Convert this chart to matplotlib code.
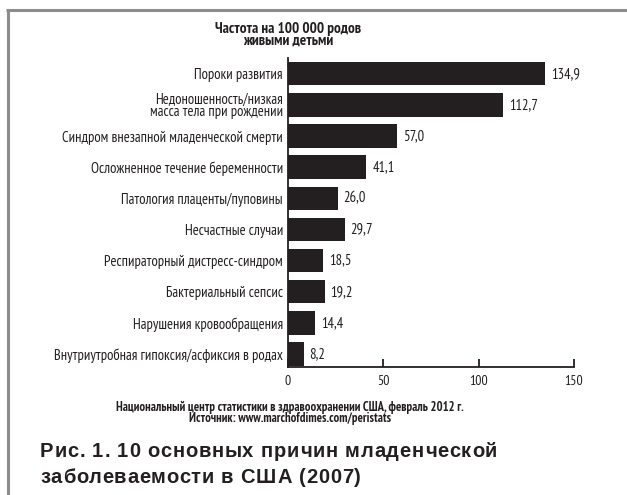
import matplotlib
matplotlib.use("Agg")
import matplotlib.pyplot as plt
from matplotlib.lines import Line2D
from matplotlib.font_manager import FontProperties

# data
causes = [
    "Пороки развития",
    "Недоношенность/низкая\nмасса тела при рождении",
    "Синдром внезапной младенческой смерти",
    "Осложненное течение беременности",
    "Патология плаценты/пуповины",
    "Несчастные случаи",
    "Респираторный дистресс-синдром",
    "Бактериальный сепсис",
    "Нарушения кровообращения",
    "Внутриутробная гипоксия/асфиксия в родах",
]
rates = [134.9, 112.7, 57.0, 41.1, 26.0, 29.7, 18.5, 19.2, 14.4, 8.2]
x_ticks = [0, 50, 100, 150]

header = "Частота на 100 000 родов\nживыми детьми"
source = ("Национальный центр статистики в здравоохранении США, февраль 2012 г.\n"
          "Источник: www.marchofdimes.com/peristats")
caption = ["Рис. 1. 10 основных причин младенческой",
           "заболеваемости в США (2007)"]

NARROW = ["PT Sans Narrow", "Roboto Condensed", "Fira Sans Condensed", "DejaVu Sans"]
WIDE = ["Liberation Sans", "Arimo", "DejaVu Sans"]
INK = "#231f20"
W, H = 627, 495

fig = plt.figure(figsize=(W / 100, H / 100), dpi=100)

# axes placed in pixel terms
left, right, top, bottom = 288, 574, 58, 367
ax = fig.add_axes([left / W, 1 - bottom / H, (right - left) / W, (bottom - top) / H])

pos = list(range(len(causes)))
ax.barh(pos, rates, height=0.75, color=INK)
ax.set_xlim(0, 150)
ax.set_ylim(len(causes) - 1 + 0.375 + 0.04, -0.375 - 0.13)

for p, v in zip(pos, rates):
    ax.annotate(f"{v:.1f}".replace(".", ","), (v, p), xytext=(4.3, 0),
                textcoords="offset points", va="center", ha="left",
                fontsize=10.5, family=NARROW, color=INK)

ax.set_yticks(pos)
ax.set_yticklabels(causes, family=NARROW, fontsize=10.5, linespacing=0.9, color=INK)
ax.tick_params(axis="y", length=0, pad=3.6)
ax.set_xticks(x_ticks)
ax.set_xticklabels([str(t) for t in x_ticks], family=NARROW, fontsize=10)
ax.tick_params(axis="x", direction="in", length=6, width=1.3, pad=6, colors=INK)
for s in ("top", "right"):
    ax.spines[s].set_visible(False)
for s in ("left", "bottom"):
    ax.spines[s].set_linewidth(1.3)
    ax.spines[s].set_color(INK)

fig.text(288 / W, 1 - 35 / H, header, ha="center", va="center", family=NARROW,
         fontweight="bold", fontsize=11, linespacing=0.8, color=INK)

fig.text(290 / W, 1 - 412.5 / H, source, ha="center", va="center", family=NARROW,
         fontweight="bold", fontsize=9.1, linespacing=0.8, color=INK)


# caption is letter-spaced, so it is set one glyph at a time
def text_width(renderer, s, fp):
    return renderer.get_text_width_height_descent(s, fp, ismath=False)[0]


def tracked_line(s, x0, baseline, track, fp):
    r = fig.canvas.get_renderer()
    bar = text_width(r, "|", fp)
    for i, ch in enumerate(s):
        if ch == " ":
            continue
        off = text_width(r, s[:i] + "|", fp) - bar if i else 0
        fig.text((x0 + off + i * track) / W, 1 - baseline / H, ch, ha="left",
                 va="baseline", fontproperties=fp, color=INK)


cap_fp = FontProperties(family=WIDE, weight="bold", size=14.5)
rend = fig.canvas.get_renderer()
cap_width = 457
track = (cap_width - text_width(rend, caption[0], cap_fp)) / (len(caption[0]) - 1)
tracked_line(caption[0], 40, 457, track, cap_fp)
tracked_line(caption[1], 40, 483, track, cap_fp)

# grey frame on the top and left edges
fig.add_artist(Line2D([7.5 / W, 7.5 / W], [0, 1 - 9.5 / H], transform=fig.transFigure,
                      color="#8c8c8c", linewidth=2.2, solid_capstyle="butt"))
fig.add_artist(Line2D([6.4 / W, 1], [1 - 9.5 / H, 1 - 9.5 / H], transform=fig.transFigure,
                      color="#8c8c8c", linewidth=2.2, solid_capstyle="butt"))

fig.savefig("out.png", dpi=100)
